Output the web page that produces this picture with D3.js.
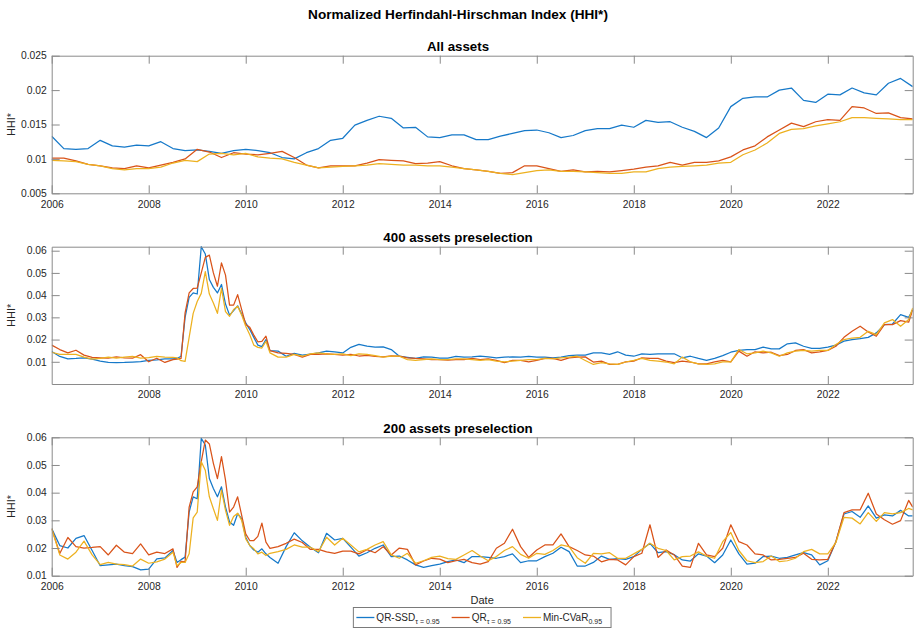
<!DOCTYPE html>
<html><head><meta charset="utf-8">
<script src="https://cdn.jsdelivr.net/npm/d3@7"></script>
<style>
body{margin:0;background:#fff}
svg{display:block}
text{font-family:"Liberation Sans",Arial,Helvetica,sans-serif;fill:#262626}
</style></head>
<body><svg id="chart" width="916" height="632"></svg>
<script>
// ---------------- DATA ----------------
const mainTitle = "Normalized Herfindahl-Hirschman Index (HHI*)";
const panelTitles = ["All assets", "400 assets preselection", "200 assets preselection"];
const seriesNames = ["QR-SSD", "QR", "Min-CVaR"];
const seriesSubs = ["\u03C4 = 0.95", "\u03C4 = 0.95", "0.95"];
const xTicksP1 = [2006, 2008, 2010, 2012, 2014, 2016, 2018, 2020, 2022];
const xTicksP2 = [2008, 2010, 2012, 2014, 2016, 2018, 2020, 2022];
const xTicksP3 = [2006, 2008, 2010, 2012, 2014, 2016, 2018, 2020, 2022];
const yTicksP1 = [0.005, 0.01, 0.015, 0.02, 0.025];
const yTicksP2 = [0.01, 0.02, 0.03, 0.04, 0.05, 0.06];
const yTicksP3 = [0.01, 0.02, 0.03, 0.04, 0.05, 0.06];

// Panel 1: quarterly sampling, Jan 2006 .. Oct 2023
const datesP1 = d3.range(72).map(i => 2006 + i / 4);
const p1SSD = [0.0133,0.0115,0.0114,0.0115,0.0127,0.0119,0.0117,0.0120,0.0119,0.0125,0.0115,0.0112,0.0113,0.0111,0.0108,0.0112,0.0114,0.0112,0.0109,0.0102,0.0100,0.0109,0.0115,0.0127,0.0130,0.0149,0.0156,0.0162,0.0159,0.0145,0.0146,0.0132,0.0131,0.0135,
  0.0135,0.0128,0.0128,0.0133,0.0137,0.0141,0.0142,0.0138,0.0131,0.0134,0.0141,0.0144,0.0144,0.0149,0.0146,0.0156,0.0153,0.0154,0.0146,0.0140,0.0131,0.0145,0.0176,0.0188,0.0190,0.0190,0.0200,0.0203,0.0185,0.0182,0.0194,0.0193,0.0203,0.0196,0.0193,0.0210,0.0217,0.0205];
const p1QR = [0.0101,0.0101,0.0097,0.0092,0.0090,0.0087,0.0086,0.0090,0.0087,0.0091,0.0095,0.0100,0.0114,0.0110,0.0102,0.0109,0.0107,0.0106,0.0108,0.0111,0.0102,0.0091,0.0087,0.0090,0.0090,0.0090,0.0094,0.0099,0.0098,0.0097,0.0093,0.0094,0.0096,0.0090,
  0.0086,0.0084,0.0082,0.0079,0.0080,0.0090,0.0090,0.0086,0.0082,0.0084,0.0081,0.0082,0.0081,0.0083,0.0085,0.0088,0.0090,0.0095,0.0091,0.0095,0.0095,0.0097,0.0103,0.0113,0.0119,0.0132,0.0142,0.0152,0.0147,0.0154,0.0157,0.0156,0.0176,0.0174,0.0166,0.0167,0.0160,0.0158];
const p1CVaR = [0.0098,0.0097,0.0096,0.0092,0.0090,0.0086,0.0084,0.0086,0.0086,0.0088,0.0094,0.0098,0.0096,0.0107,0.0108,0.0106,0.0108,0.0103,0.0101,0.0100,0.0095,0.0091,0.0087,0.0088,0.0089,0.0090,0.0091,0.0093,0.0092,0.0091,0.0091,0.0090,0.0090,0.0088,
  0.0086,0.0084,0.0082,0.0079,0.0077,0.0080,0.0083,0.0084,0.0082,0.0082,0.0081,0.0080,0.0079,0.0079,0.0081,0.0081,0.0086,0.0088,0.0089,0.0090,0.0091,0.0094,0.0095,0.0106,0.0113,0.0123,0.0137,0.0143,0.0144,0.0148,0.0151,0.0154,0.0160,0.0160,0.0159,0.0158,0.0157,0.0157];

// Panels 2 and 3: month index from Jan 2006 (bimonthly, monthly during 2008-2010)
const monthsP23 = [...d3.range(0, 30, 2), ...d3.range(30, 54), ...d3.range(54, 213, 2), 213];
const datesP23 = monthsP23.map(m => 2006 + m / 12);

const p2SSD = [0.0146,0.0124,0.0113,0.0115,0.0118,0.0112,0.0103,0.0097,0.0096,0.0097,0.0099,0.0101,0.0106,0.0109,0.0113,
  0.0113,0.0115,0.0125,0.0300,0.0390,0.0410,0.0405,0.0618,0.0585,0.0470,0.0435,0.0410,0.0448,0.0360,0.0310,0.0330,0.0352,0.0315,0.0275,0.0245,0.0210,0.0175,0.0168,0.0200,
  0.0150,0.0148,0.0125,0.0138,0.0130,0.0135,0.0140,0.0148,0.0145,0.0140,0.0165,0.0178,0.0170,0.0166,0.0167,0.0155,0.0125,0.0120,0.0115,0.0122,0.0121,0.0116,0.0116,0.0124,
  0.0121,0.0122,0.0125,0.0122,0.0118,0.0121,0.0122,0.0121,0.0124,0.0121,0.0121,0.0118,0.0121,0.0128,0.0130,0.0130,0.0140,0.0140,0.0133,0.0145,0.0130,0.0125,0.0136,0.0133,0.0136,0.0136,0.0136,0.0118,0.0125,0.0115,0.0106,0.0115,0.0128,0.0143,0.0151,0.0155,0.0155,0.0166,0.0158,0.0158,0.0181,0.0185,0.0170,0.0160,0.0160,0.0166,0.0175,0.0193,0.0200,0.0204,0.0210,0.0230,0.0267,0.0270,0.0312,0.0300,0.0334];
const p2QR = [0.0175,0.0155,0.0140,0.0152,0.0130,0.0120,0.0118,0.0116,0.0122,0.0118,0.0116,0.0132,0.0100,0.0116,0.0097,
  0.0110,0.0112,0.0115,0.0320,0.0410,0.0430,0.0432,0.0500,0.0570,0.0580,0.0500,0.0440,0.0545,0.0490,0.0355,0.0355,0.0402,0.0335,0.0268,0.0255,0.0220,0.0190,0.0192,0.0215,
  0.0150,0.0140,0.0138,0.0133,0.0121,0.0133,0.0133,0.0136,0.0133,0.0130,0.0133,0.0126,0.0129,0.0124,0.0122,0.0127,0.0125,0.0118,0.0115,0.0113,0.0110,0.0110,0.0107,0.0110,
  0.0110,0.0115,0.0110,0.0113,0.0106,0.0096,0.0106,0.0106,0.0100,0.0106,0.0115,0.0115,0.0106,0.0118,0.0121,0.0122,0.0099,0.0103,0.0088,0.0088,0.0100,0.0103,0.0118,0.0115,0.0115,0.0103,0.0096,0.0103,0.0099,0.0091,0.0091,0.0100,0.0106,0.0100,0.0148,0.0125,0.0145,0.0140,0.0143,0.0128,0.0133,0.0151,0.0155,0.0140,0.0145,0.0151,0.0170,0.0210,0.0237,0.0260,0.0234,0.0215,0.0267,0.0267,0.0285,0.0278,0.0334];
const p2CVaR = [0.0143,0.0133,0.0133,0.0133,0.0121,0.0112,0.0115,0.0121,0.0116,0.0121,0.0124,0.0116,0.0119,0.0124,0.0121,
  0.0120,0.0118,0.0105,0.0102,0.0210,0.0318,0.0371,0.0408,0.0506,0.0405,0.0365,0.0318,0.0430,0.0326,0.0305,0.0335,0.0350,0.0310,0.0260,0.0222,0.0175,0.0165,0.0162,0.0192,
  0.0140,0.0121,0.0121,0.0133,0.0125,0.0136,0.0140,0.0136,0.0133,0.0136,0.0128,0.0136,0.0133,0.0128,0.0121,0.0125,0.0125,0.0110,0.0106,0.0110,0.0113,0.0110,0.0110,0.0113,
  0.0113,0.0110,0.0106,0.0110,0.0103,0.0100,0.0103,0.0106,0.0110,0.0110,0.0115,0.0113,0.0118,0.0121,0.0125,0.0106,0.0088,0.0096,0.0091,0.0088,0.0099,0.0106,0.0115,0.0106,0.0103,0.0099,0.0091,0.0121,0.0100,0.0091,0.0088,0.0091,0.0100,0.0100,0.0155,0.0136,0.0140,0.0148,0.0140,0.0125,0.0140,0.0148,0.0151,0.0148,0.0151,0.0151,0.0178,0.0200,0.0207,0.0210,0.0237,0.0222,0.0275,0.0290,0.0260,0.0290,0.0342];

const p3SSD = [0.0270,0.0209,0.0200,0.0235,0.0245,0.0191,0.0136,0.0139,0.0142,0.0136,0.0133,0.0121,0.0124,0.0161,0.0164,
  0.0191,0.0148,0.0158,0.0167,0.0330,0.0385,0.0378,0.0596,0.0572,0.0451,0.0415,0.0385,0.0421,0.0348,0.0294,0.0282,0.0324,0.0306,0.0239,0.0209,0.0193,0.0185,0.0197,0.0179,
  0.0166,0.0145,0.0205,0.0255,0.0226,0.0203,0.0183,0.0253,0.0229,0.0235,0.0203,0.0171,0.0183,0.0199,0.0211,0.0169,0.0171,0.0157,0.0139,0.0130,0.0136,0.0142,0.0151,0.0157,0.0147,0.0169,0.0169,0.0166,0.0163,0.0169,0.0179,0.0147,0.0154,0.0154,0.0169,0.0181,0.0203,0.0187,0.0135,0.0135,
  0.0148,0.0171,0.0159,0.0162,0.0159,0.0169,0.0195,0.0217,0.0183,0.0187,0.0176,0.0157,0.0153,0.0179,0.0171,0.0147,0.0175,0.0229,0.0179,0.0142,0.0145,0.0169,0.0171,0.0163,0.0166,0.0175,0.0183,0.0175,0.0139,0.0154,0.0223,0.0323,0.0332,0.0311,0.0352,0.0308,0.0320,0.0316,0.0336,0.0316,0.0316];
const p3QR = [0.0270,0.0180,0.0238,0.0205,0.0200,0.0202,0.0205,0.0175,0.0210,0.0185,0.0180,0.0215,0.0175,0.0185,0.0180,
  0.0197,0.0130,0.0152,0.0150,0.0348,0.0403,0.0421,0.0512,0.0590,0.0576,0.0506,0.0451,0.0530,0.0445,0.0330,0.0348,0.0385,0.0318,0.0251,0.0227,0.0227,0.0242,0.0290,0.0221,
  0.0199,0.0205,0.0217,0.0232,0.0220,0.0195,0.0195,0.0186,0.0181,0.0189,0.0189,0.0179,0.0194,0.0183,0.0205,0.0175,0.0200,0.0195,0.0139,0.0153,0.0163,0.0160,0.0147,0.0154,0.0159,0.0147,0.0142,0.0151,0.0199,0.0217,0.0268,0.0205,0.0166,0.0193,0.0211,0.0211,0.0251,0.0205,0.0191,0.0175,
  0.0171,0.0150,0.0159,0.0157,0.0139,0.0169,0.0181,0.0284,0.0166,0.0193,0.0175,0.0135,0.0130,0.0217,0.0175,0.0169,0.0199,0.0284,0.0223,0.0211,0.0179,0.0175,0.0157,0.0159,0.0163,0.0166,0.0181,0.0159,0.0157,0.0159,0.0223,0.0328,0.0338,0.0338,0.0398,0.0323,0.0302,0.0286,0.0299,0.0372,0.0348];
const p3CVaR = [0.0270,0.0175,0.0160,0.0185,0.0225,0.0175,0.0140,0.0148,0.0142,0.0140,0.0135,0.0160,0.0145,0.0150,0.0160,
  0.0185,0.0136,0.0148,0.0148,0.0179,0.0309,0.0330,0.0512,0.0481,0.0385,0.0342,0.0300,0.0409,0.0336,0.0282,0.0314,0.0326,0.0300,0.0233,0.0209,0.0197,0.0179,0.0185,0.0173,
  0.0181,0.0187,0.0195,0.0211,0.0203,0.0203,0.0187,0.0239,0.0211,0.0235,0.0211,0.0186,0.0195,0.0211,0.0223,0.0175,0.0163,0.0181,0.0145,0.0154,0.0166,0.0171,0.0162,0.0159,0.0175,0.0191,0.0171,0.0154,0.0169,0.0191,0.0205,0.0177,0.0163,0.0181,0.0177,0.0191,0.0211,0.0205,0.0165,0.0145,
  0.0181,0.0179,0.0183,0.0163,0.0163,0.0179,0.0195,0.0217,0.0199,0.0191,0.0157,0.0169,0.0171,0.0186,0.0171,0.0163,0.0223,0.0256,0.0191,0.0154,0.0147,0.0151,0.0171,0.0151,0.0154,0.0163,0.0187,0.0195,0.0179,0.0179,0.0220,0.0311,0.0308,0.0287,0.0328,0.0296,0.0328,0.0323,0.0328,0.0343,0.0338];

const colors = ["#1679C9", "#D95319", "#EDB120"];

// ---------------- LAYOUT ----------------
const svg = d3.select("#chart");
const left = 51.7, right = 912.7;
const axisColor = "#8a8a8a";
const tickLen = 8;

const panels = [
  {title: panelTitles[0], top: 55.7, bottom: 193.3, dates: datesP1, series: [p1SSD, p1QR, p1CVaR],
   yDomain: [0.005, 0.025], yTicks: yTicksP1, xTicks: xTicksP1},
  {title: panelTitles[1], top: 246.7, bottom: 384, dates: datesP23, series: [p2SSD, p2QR, p2CVaR],
   yDomain: [0, d3.max([p2SSD, p2QR, p2CVaR].flat())], yTicks: yTicksP2, xTicks: xTicksP2},
  {title: panelTitles[2], top: 437.3, bottom: 575.7, dates: datesP23, series: [p3SSD, p3QR, p3CVaR],
   yDomain: [0.01, 0.06], yTicks: yTicksP3, xTicks: xTicksP3}
];

const x = d3.scaleLinear().domain([2006, 2023.75]).range([left, right]);
const fmtY = d => String(+d.toFixed(3));

svg.append("text").attr("x", 458).attr("y", 19).attr("text-anchor", "middle")
  .style("font-size", "13.6px").style("font-weight", "bold").style("fill", "#000").text(mainTitle);

panels.forEach((p, pi) => {
  const y = d3.scaleLinear().domain(p.yDomain).range([p.bottom, p.top]);
  const g = svg.append("g");

  g.append("rect").attr("x", left).attr("y", p.top).attr("width", right - left).attr("height", p.bottom - p.top)
    .attr("fill", "#fff");

  const clipId = "clip" + pi;
  svg.append("clipPath").attr("id", clipId).append("rect")
    .attr("x", left).attr("y", p.top - 1).attr("width", right - left).attr("height", p.bottom - p.top + 2);

  const line = d3.line().x((d, i) => x(p.dates[i])).y(d => y(d));
  p.series.forEach((s, si) => {
    g.append("path").datum(s).attr("clip-path", `url(#${clipId})`)
      .attr("fill", "none").attr("stroke", colors[si]).attr("stroke-width", 1.25)
      .attr("stroke-linejoin", "round").attr("d", line);
  });

  const styleAxis = sel => {
    sel.select(".domain").attr("stroke", axisColor);
    sel.selectAll(".tick line").attr("stroke", axisColor);
    sel.selectAll("text").style("font-size", "10.3px").style("fill", "#262626")
      .style("font-family", "'Liberation Sans',Arial,Helvetica,sans-serif");
  };

  g.append("g").attr("transform", `translate(0,${p.bottom})`)
    .call(d3.axisBottom(x).tickValues(p.xTicks).tickFormat(d3.format("d")).tickSizeInner(-tickLen).tickSizeOuter(0).tickPadding(7))
    .call(styleAxis);
  g.append("g").attr("transform", `translate(0,${p.top})`)
    .call(d3.axisTop(x).tickValues(p.xTicks).tickFormat("").tickSizeInner(-tickLen).tickSizeOuter(0))
    .call(styleAxis);
  g.append("g").attr("transform", `translate(${left},0)`)
    .call(d3.axisLeft(y).tickValues(p.yTicks).tickFormat(fmtY).tickSizeInner(-tickLen).tickSizeOuter(0).tickPadding(5))
    .call(styleAxis);
  g.append("g").attr("transform", `translate(${right},0)`)
    .call(d3.axisRight(y).tickValues(p.yTicks).tickFormat("").tickSizeInner(-tickLen).tickSizeOuter(0))
    .call(styleAxis);

  g.append("text").attr("x", 458).attr("y", p.top - 4.3).attr("text-anchor", "middle")
    .style("font-size", "13.3px").style("font-weight", "bold").style("fill", "#000").text(p.title);

  g.append("text").attr("transform", `translate(15,${(p.top + p.bottom) / 2}) rotate(-90)`)
    .attr("text-anchor", "middle").style("font-size", "11px").text("HHI*");
});

svg.append("text").attr("x", (left + right) / 2).attr("y", 604).attr("text-anchor", "middle")
  .style("font-size", "11px").text("Date");

// ---------------- LEGEND ----------------
const lg = svg.append("g");
const box = lg.append("rect").attr("y", 607.5).attr("height", 20).attr("fill", "#fff")
  .attr("stroke", "#7a7a7a").attr("stroke-width", 1);
let cx = 0;
seriesNames.forEach((name, i) => {
  const ig = lg.append("g");
  ig.append("line").attr("x1", cx + 3).attr("x2", cx + 21).attr("y1", 617.5).attr("y2", 617.5)
    .attr("stroke", colors[i]).attr("stroke-width", 1.3);
  const t = ig.append("text").attr("x", cx + 23).attr("y", 621).style("font-size", "10px");
  t.append("tspan").text(name);
  t.append("tspan").attr("dy", 3).style("font-size", "7px").text(seriesSubs[i]);
  const w = t.node().getComputedTextLength();
  cx += 23 + w + 9;
});
const totalW = cx;
const x0 = (left + right) / 2 - totalW / 2;
lg.selectAll("g").attr("transform", `translate(${x0},0)`);
box.attr("x", x0).attr("width", totalW);
</script></body></html>
